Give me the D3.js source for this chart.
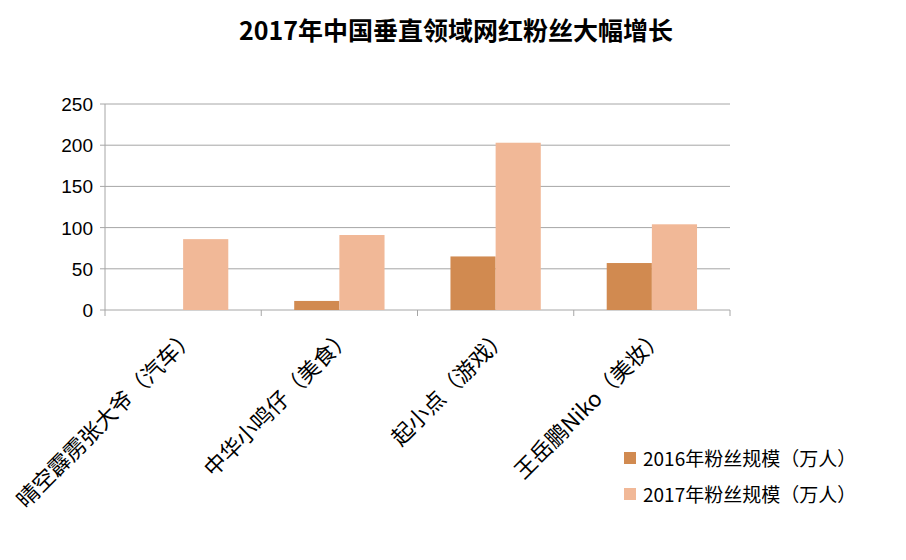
<!DOCTYPE html>
<html><head><meta charset="utf-8">
<script src="https://cdn.jsdelivr.net/npm/d3@7"></script>
<style>body{margin:0;background:#fff}svg{font-family:"Noto Sans CJK SC","Noto Sans",sans-serif}</style>
</head><body>
<svg id="c" width="906" height="560"></svg>
<script>
const categories = ["晴空霹雳张大爷（汽车）","中华小鸣仔（美食）","起小点（游戏）","王岳鹏Niko（美妆）"];
const series = ["2016年粉丝规模（万人）","2017年粉丝规模（万人）"];
const values2016 = [0, 11, 65, 57];
const values2017 = [86, 91, 203, 104];
const yTicks = [0,50,100,150,200,250];
const colors = ["#d18a50","#f1b897"];

const svg = d3.select("#c");
const L=105,R=730,T=104,B=310;
const x = d3.scaleBand().domain(categories).range([L,R]).paddingInner(0).paddingOuter(0);
const xs = d3.scaleBand().domain(series).range([0,x.bandwidth()]).paddingInner(0).paddingOuter(0.73);
const y = d3.scaleLinear().domain([0,250]).range([B,T]);

svg.append("text").attr("x",456).attr("y",40).attr("text-anchor","middle")
  .attr("font-size",25).attr("font-weight","bold").text("2017年中国垂直领域网红粉丝大幅增长");

svg.append("g").selectAll("line").data(yTicks).join("line")
  .attr("x1",L).attr("x2",R).attr("y1",d=>y(d)).attr("y2",d=>y(d))
  .attr("stroke","#a6a6a6").attr("stroke-width",1);
svg.append("line").attr("x1",L).attr("x2",L).attr("y1",T).attr("y2",B).attr("stroke","#a6a6a6");
svg.append("g").selectAll("line").data(yTicks).join("line")
  .attr("x1",L-5).attr("x2",L).attr("y1",d=>y(d)).attr("y2",d=>y(d)).attr("stroke","#a6a6a6");
svg.append("g").selectAll("text").data(yTicks).join("text")
  .attr("x",L-12).attr("y",d=>y(d)+7).attr("text-anchor","end").attr("font-size",19)
  .attr("font-family","Liberation Sans, Arial").text(d=>d);

const data=[values2016,values2017];
series.forEach((s,i)=>{
  svg.append("g").selectAll("rect").data(categories).join("rect")
    .attr("x",c=>x(c)+xs(s)).attr("width",xs.bandwidth())
    .attr("y",(c,j)=>y(data[i][j])).attr("height",(c,j)=>B-y(data[i][j]))
    .attr("fill",colors[i]);
});

const ticksX = categories.map(c=>x(c)).concat([R]);
svg.append("g").selectAll("line").data(ticksX).join("line")
  .attr("x1",d=>d).attr("x2",d=>d).attr("y1",B).attr("y2",B+6).attr("stroke","#a6a6a6");

svg.append("g").selectAll("text").data(categories).join("text")
  .attr("transform",c=>`translate(${x(c)+x.bandwidth()/2+14},${B+28}) rotate(-45)`)
  .attr("text-anchor","end").attr("font-size",22).text(c=>c);

series.forEach((s,i)=>{
  const ly=460+i*36;
  svg.append("rect").attr("x",624).attr("y",ly-8).attr("width",12).attr("height",12).attr("fill",colors[i]);
  svg.append("text").attr("x",643).attr("y",ly+6).attr("font-size",19).text(s);
});
</script>
</body></html>
